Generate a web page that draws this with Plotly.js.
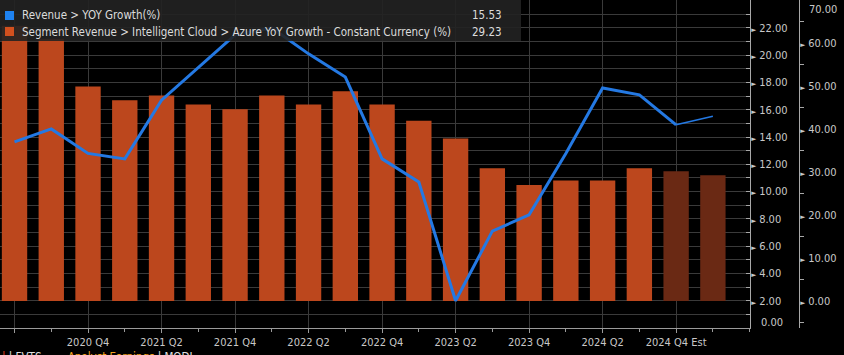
<!DOCTYPE html>
<html>
<head>
<meta charset="utf-8">
<script src="https://cdn.plot.ly/plotly-3.0.1.min.js"></script>
<style>
  html, body { margin: 0; padding: 0; background: #000; }
  #chart { width: 844px; height: 355px; }
</style>
</head>
<body>
<div id="chart"></div>
<script>
// ---- Data ----
const quarters = ["2020 Q2","2020 Q3","2020 Q4","2021 Q1","2021 Q2","2021 Q3","2021 Q4","2022 Q1",
  "2022 Q2","2022 Q3","2022 Q4","2023 Q1","2023 Q2","2023 Q3","2023 Q4","2024 Q1","2024 Q2",
  "2024 Q3","2024 Q4 Est","2025 Q1 Est"];
const isEstimate = [false,false,false,false,false,false,false,false,false,false,false,false,false,
  false,false,false,false,false,true,true];
const revenueGrowth = [13.65, 14.6, 12.8, 12.4, 16.7, 19.1, 21.5, 22.0, 20.1, 18.4, 12.4, 10.7,
  2.0, 7.1, 8.3, 12.8, 17.6, 17.1, 14.9, 15.53];
const azureGrowth = [64, 61, 49.9, 46.7, 47.8, 45.7, 44.6, 47.8, 45.7, 48.8, 45.7, 41.9, 37.8,
  30.9, 27.0, 28.0, 28.0, 30.9, 30.2, 29.23];
const xTickLabels = ["", "2020 Q4", "2021 Q2", "2021 Q4", "2022 Q2", "2022 Q4", "2023 Q2",
  "2023 Q4", "2024 Q2", "2024 Q4 Est"];
const revenueTicks = [0, 2, 4, 6, 8, 10, 12, 14, 16, 18, 20, 22];
const azureTicks = [0, 10, 20, 30, 40, 50, 60, 70];
const seriesNames = ["Revenue > YOY Growth(%)",
  "Segment Revenue > Intelligent Cloud > Azure YoY Growth - Constant Currency (%)"];
const footerParts = ["| FVTS", "Analyst Earnings", "| MODL"];

// ---- Styling ----
const W = 844, H = 355;
const plotRight = 750, plotBottom = 328, axis2X = 799;
const FONT = "DejaVu Sans Condensed, DejaVu Sans, sans-serif";
const TXT = "#c8c8c8";
const BAR = "#BC471D", BAR_EST = "#6A2914";
const BLUE = "#2479E3";
const GRID = "#3a3a3a";
const px = x => x / W;                          // paper x from pixel
const py = y => (plotBottom - y) / plotBottom;  // paper y from pixel

const idx = quarters.map((q, i) => i);
const firstEst = isEstimate.indexOf(true);

const tri = '<span style="font-size:7px">\u25BA</span>';
const fmt = v => v.toFixed(2);

// bars on the base y axis (Azure), line on the overlaying axis (Revenue) so it is drawn on top
const barTrace = {
  type: "bar", x: idx, y: azureGrowth, yaxis: "y", width: 0.69,
  marker: { color: isEstimate.map(e => e ? BAR_EST : BAR), line: { width: 0 } },
  name: seriesNames[1], hoverinfo: "skip"
};
const lineActual = {
  type: "scatter", mode: "lines", x: idx.slice(0, firstEst + 1),
  y: revenueGrowth.slice(0, firstEst + 1), yaxis: "y2",
  line: { color: BLUE, width: 3 }, name: seriesNames[0], hoverinfo: "skip"
};
const lineEst = {
  type: "scatter", mode: "lines", x: idx.slice(firstEst), y: revenueGrowth.slice(firstEst),
  yaxis: "y2", line: { color: BLUE, width: 1.6 }, name: seriesNames[0] + " Est", hoverinfo: "skip"
};

const xTickVals = xTickLabels.map((t, k) => 2 * k);
const revMax = 24.05, azMin = -6.28, azMax = 70;

const annotations = [];
const shapes = [];
// Legend box
shapes.push({ type: "rect", xref: "paper", yref: "paper", x0: 0, x1: px(521),
  y0: py(41), y1: 1, fillcolor: "rgba(34,34,34,0.9)", line: { width: 0 }, layer: "above" });
const legendRows = [
  { name: seriesNames[0], color: "#1E82F0", value: revenueGrowth[revenueGrowth.length - 1], y: 15.5 },
  { name: seriesNames[1], color: "#D2501E", value: azureGrowth[azureGrowth.length - 1], y: 31.5 }
];
legendRows.forEach(r => {
  shapes.push({ type: "rect", xref: "paper", yref: "paper", x0: px(5), x1: px(14),
    y0: py(r.y + 4.5), y1: py(r.y - 4.5), fillcolor: r.color, line: { width: 0 }, layer: "above" });
  annotations.push({ xref: "paper", yref: "paper", x: px(20), y: py(r.y),
    xanchor: "left", yanchor: "middle", text: r.name, showarrow: false,
    font: { family: FONT, size: 11.5, color: "#dcdcdc" } });
  annotations.push({ xref: "paper", yref: "paper", x: px(504), y: py(r.y),
    xanchor: "right", yanchor: "middle", text: fmt(r.value), showarrow: false,
    font: { family: FONT, size: 11.5, color: "#dcdcdc" } });
});
// end labels of the axes, drawn just inside the axis ends as in the reference
annotations.push({ xref: "paper", yref: "paper", x: px(807), y: py(9),
  xanchor: "left", yanchor: "middle", text: fmt(azureTicks[azureTicks.length - 1]), showarrow: false,
  font: { family: FONT, size: 11, color: TXT } });
annotations.push({ xref: "paper", yref: "paper", x: px(759), y: py(322.5),
  xanchor: "left", yanchor: "middle", text: fmt(revenueTicks[0]), showarrow: false,
  font: { family: FONT, size: 11, color: TXT } });
// footer (cut off by the picture edge, as in the reference)
annotations.push({ xref: "paper", yref: "paper", x: 0, y: py(348),
  xanchor: "left", yanchor: "top", showarrow: false, align: "left",
  text: '<span style="color:#e0401c">|</span> ' + footerParts[0] +
    '        <span style="color:#f0a01e">' + footerParts[1] + '</span> ' + footerParts[2],
  font: { family: FONT, size: 11.5, color: "#e0e0e0" } });

const layout = {
  width: W, height: H,
  margin: { l: 0, r: 0, t: 0, b: H - plotBottom, pad: 0 },
  paper_bgcolor: "#000", plot_bgcolor: "#000",
  showlegend: false,
  xaxis: {
    domain: [0, px(plotRight)],
    range: [-0.395, 20.01], tickmode: "array", tickvals: xTickVals, ticktext: xTickLabels,
    showgrid: true, gridcolor: GRID, gridwidth: 1, zeroline: false,
    showline: true, linecolor: "#9a9a9a", linewidth: 1,
    ticks: "outside", ticklen: 4, tickcolor: "#9a9a9a",
    minor: { tickmode: "linear", tick0: 0, dtick: 1, ticks: "outside", ticklen: 3, tickcolor: "#9a9a9a", showgrid: false },
    tickfont: { family: FONT, size: 11, color: TXT }, fixedrange: true
  },
  // Azure axis (outer right)
  yaxis: {
    range: [azMin, azMax], side: "right", anchor: "free", position: px(axis2X),
    tickmode: "array", tickvals: azureTicks,
    ticktext: azureTicks.map((v, k) => k === azureTicks.length - 1 ? tri : tri + " " + fmt(v)),
    showgrid: false, zeroline: false,
    showline: true, linecolor: "#a8a8a8", linewidth: 1,
    ticks: "",
    minor: { tickmode: "linear", tick0: 5, dtick: 10, ticks: "outside", ticklen: 4, tickcolor: "#a8a8a8", showgrid: false },
    tickfont: { family: FONT, size: 11, color: TXT }, ticklabelstandoff: -2, fixedrange: true
  },
  // Revenue axis (inner right, at the plot edge)
  yaxis2: {
    range: [0, revMax], overlaying: "y", side: "right", anchor: "x",
    tickmode: "array", tickvals: revenueTicks,
    ticktext: revenueTicks.map((v, k) => k === 0 ? "" : tri + " " + fmt(v)),
    showgrid: true, gridcolor: GRID, zeroline: false,
    showline: true, linecolor: "#a8a8a8", linewidth: 1,
    ticks: "inside", ticklen: 4, tickcolor: "#a8a8a8",
    minor: { tickmode: "linear", tick0: 0, dtick: 1, ticks: "inside", ticklen: 4, tickcolor: "#a8a8a8",
      showgrid: true, gridcolor: GRID },
    tickfont: { family: FONT, size: 11, color: TXT }, ticklabelstandoff: -2, fixedrange: true
  },
  shapes: shapes,
  annotations: annotations
};

Plotly.newPlot("chart", [barTrace, lineActual, lineEst], layout, { displayModeBar: false, staticPlot: true });
</script>
</body>
</html>
